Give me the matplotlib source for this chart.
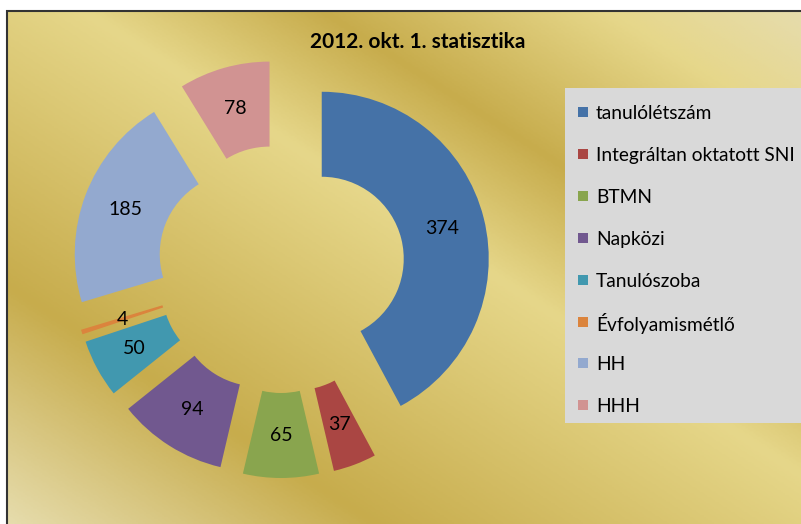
import numpy as np
import matplotlib.pyplot as plt
from matplotlib.colors import LinearSegmentedColormap
from matplotlib.patches import Rectangle

labels = ['tanulólétszám', 'Integráltan oktatott SNI', 'BTMN', 'Napközi',
          'Tanulószoba', 'Évfolyamismétlő', 'HH', 'HHH']
values = [374, 37, 65, 94, 50, 4, 185, 78]
colors = ['#4572A7', '#AA4643', '#89A54E', '#71588F',
          '#4198AF', '#DB843D', '#93A9CF', '#D19392']
title = '2012. okt. 1. statisztika'

fonts = ['Lato', 'DejaVu Sans']
W, H = 801, 524
fig = plt.figure(figsize=(W / 100, H / 100), dpi=100)
ax = fig.add_axes([0, 0, 1, 1])

# gold gradient background like the Excel preset
gold = LinearSegmentedColormap.from_list('gold', [
    (0, '#E6DCAC'), (0.12, '#E6D78A'), (0.30, '#C7AC4C'),
    (0.45, '#E6D78A'), (0.77, '#C7AC4C'), (1, '#E6DCAC')])
x0, y0 = 7, 11
U, V = np.meshgrid(np.linspace(0, 1, 400), np.linspace(0, 1, 300))
ax.imshow(((1 - U) + V) / 2, cmap=gold, extent=(x0, W, 0, H - y0),
          origin='upper', aspect='auto', zorder=0)
ax.add_patch(Rectangle((x0 - 0.5, -5), W, H - y0 + 5.5, fill=False,
                       edgecolor='#333333', lw=1.5, zorder=1))

total = sum(values)
wedges, texts, autotexts = ax.pie(
    values, colors=colors, startangle=90, counterclock=False,
    radius=167, center=(281, H - 269), explode=[42] * len(values),
    wedgeprops=dict(width=85, linewidth=0),
    autopct=lambda p: '%d' % round(p * total / 100),
    pctdistance=124.5 / 167,
    textprops=dict(fontsize=14, family=fonts, color='black'))

ax.set_xlim(0, W)
ax.set_ylim(0, H)
ax.set_aspect('auto')
ax.axis('off')

ax.text(418, H - 42, title, ha='center', va='center', fontsize=15,
        fontweight='bold', family=fonts)

# legend: gray box with evenly spaced entries
ax.add_patch(Rectangle((565, H - 423), 300, 335, facecolor='#D9D9D9',
                       edgecolor='none', zorder=3))
for i, (lab, w) in enumerate(zip(labels, wedges)):
    yc = H - (112 + i * 41.9)
    ax.add_patch(Rectangle((578, yc - 5), 10, 10, facecolor=w.get_facecolor(),
                           edgecolor='none', zorder=4))
    ax.text(596, yc, lab, ha='left', va='center_baseline', fontsize=13.8,
            family=fonts, zorder=4)

fig.savefig('out.png', dpi=100, facecolor='white')
